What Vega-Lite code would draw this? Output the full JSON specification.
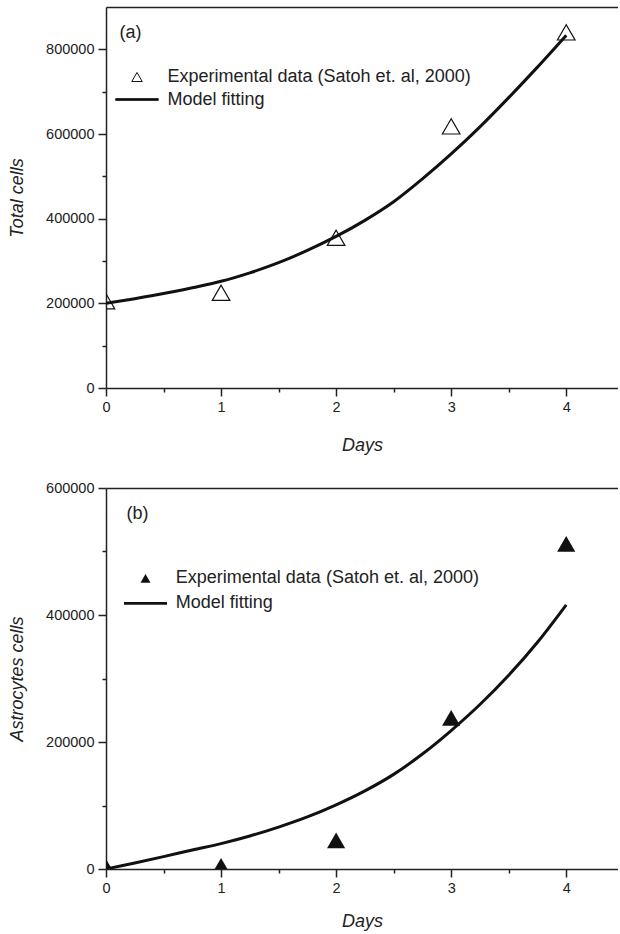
{
  "$schema": "https://vega.github.io/schema/vega-lite/v6.json",
  "padding": {"left": 8, "top": 7, "right": 0, "bottom": 0},
  "spacing": 25,
  "config": {
    "font": "Liberation Sans",
    "view": {"stroke": null},
    "axis": {
      "domainColor": "#222", "domainWidth": 1.5,
      "tickColor": "#222", "tickWidth": 1.5,
      "labelColor": "#222", "labelFont": "Liberation Sans", "labelFontSize": 14.5,
      "titleFont": "Liberation Sans", "titleFontSize": 18, "titleFontStyle": "italic",
      "titleFontWeight": "normal", "titleColor": "#222",
      "grid": false, "labelPadding": 4, "labelFlush": false
    },
    "legend": {"padding": 0, "titleFontSize": 0}
  },
  "datasets": {
    "total_exp": [
      {"day": 0, "cells": 205000, "series": "Experimental data (Satoh et. al, 2000)"},
      {"day": 1, "cells": 225000, "series": "Experimental data (Satoh et. al, 2000)"},
      {"day": 2, "cells": 355000, "series": "Experimental data (Satoh et. al, 2000)"},
      {"day": 3, "cells": 618000, "series": "Experimental data (Satoh et. al, 2000)"},
      {"day": 4, "cells": 840000, "series": "Experimental data (Satoh et. al, 2000)"}
    ],
    "total_model": [
      {"day": 0, "cells": 200000}, {"day": 0.25, "cells": 211000}, {"day": 0.5, "cells": 223000},
      {"day": 0.75, "cells": 237000}, {"day": 1, "cells": 252000}, {"day": 1.25, "cells": 272000},
      {"day": 1.5, "cells": 296000}, {"day": 1.75, "cells": 325000}, {"day": 2, "cells": 358000},
      {"day": 2.25, "cells": 396000}, {"day": 2.5, "cells": 440000}, {"day": 2.75, "cells": 494000},
      {"day": 3, "cells": 553000}, {"day": 3.25, "cells": 617000}, {"day": 3.5, "cells": 686000},
      {"day": 3.75, "cells": 758000}, {"day": 4, "cells": 833000}
    ],
    "astro_exp": [
      {"day": 0, "cells": 3500, "series": "Experimental data (Satoh et. al, 2000)"},
      {"day": 1, "cells": 5000, "series": "Experimental data (Satoh et. al, 2000)"},
      {"day": 2, "cells": 45000, "series": "Experimental data (Satoh et. al, 2000)"},
      {"day": 3, "cells": 238000, "series": "Experimental data (Satoh et. al, 2000)"},
      {"day": 4, "cells": 512000, "series": "Experimental data (Satoh et. al, 2000)"}
    ],
    "astro_model": [
      {"day": 0, "cells": 0}, {"day": 0.25, "cells": 9500}, {"day": 0.5, "cells": 19500},
      {"day": 0.75, "cells": 30000}, {"day": 1, "cells": 40000}, {"day": 1.25, "cells": 52000},
      {"day": 1.5, "cells": 66000}, {"day": 1.75, "cells": 82000}, {"day": 2, "cells": 101000},
      {"day": 2.25, "cells": 123000}, {"day": 2.5, "cells": 149000}, {"day": 2.75, "cells": 181000},
      {"day": 3, "cells": 218000}, {"day": 3.25, "cells": 259000}, {"day": 3.5, "cells": 305000},
      {"day": 3.75, "cells": 357000}, {"day": 4, "cells": 416000}
    ]
  },
  "resolve": {"scale": {"shape": "independent"}, "legend": {"shape": "independent"}},
  "vconcat": [
    {
      "width": 512,
      "height": 381,
      "title": {"text": "(a)", "anchor": "start", "frame": "group", "orient": "top", "offset": 0, "dx": 13.5, "dy": 49, "baseline": "alphabetic", "fontSize": 18, "fontWeight": "normal", "font": "Liberation Sans", "color": "#222"},
      "resolve": {"axis": {"x": "independent"}},
      "layer": [
        {
          "data": {"name": "total_model"},
          "mark": {"type": "line", "color": "#111", "strokeWidth": 3, "interpolate": "monotone", "clip": true},
          "encoding": {
            "x": {"field": "day", "type": "quantitative", "scale": {"domain": [0, 4.45], "nice": false},
              "axis": {"orient": "bottom", "values": [0, 0.5, 1, 1.5, 2, 2.5, 3, 3.5, 4], "labelExpr": "datum.value % 1 === 0 ? format(datum.value, 'd') : ''",
                "tickSize": {"condition": {"test": "datum.value % 1 === 0", "value": 8}, "value": 4},
                "title": "Days", "titlePadding": 23}},
            "y": {"field": "cells", "type": "quantitative", "scale": {"domain": [0, 900000], "nice": false},
              "axis": {"values": [0, 100000, 200000, 300000, 400000, 500000, 600000, 700000, 800000], "format": "d",
                "labelExpr": "datum.value % 200000 === 0 ? datum.label : ''",
                "tickSize": {"condition": {"test": "datum.value % 200000 === 0", "value": 8}, "value": 4},
                "title": "Total cells", "titlePadding": 19}}
          }
        },
        {
          "data": {"name": "total_exp"},
          "mark": {"type": "point", "filled": false, "color": "#111", "size": 310, "strokeWidth": 1.2, "opacity": 1, "clip": true},
          "encoding": {
            "x": {"field": "day", "type": "quantitative",
              "axis": {"orient": "top", "ticks": false, "labels": false, "title": null, "domain": true}},
            "y": {"field": "cells", "type": "quantitative"},
            "shape": {"field": "series", "type": "nominal",
              "scale": {"domain": ["Experimental data (Satoh et. al, 2000)", "Model fitting"], "range": ["triangle-up", "M-4.1,-0.15L4.1,-0.15M-4.1,-0.075L4.1,-0.075M-4.1,0L4.1,0M-4.1,0.075L4.1,0.075M-4.1,0.15L4.1,0.15"]},
              "legend": {"orient": "none", "legendX": 22, "legendY": 61, "title": null,
                "labelFontSize": 18, "labelFont": "Liberation Sans", "labelColor": "#222", "labelLimit": 500,
                "symbolSize": 110, "labelOffset": 21.5, "rowPadding": 4.5,
                "symbolStrokeColor": "#111", "symbolStrokeWidth": 1}}
          }
        }
      ]
    },
    {
      "width": 512,
      "height": 381,
      "title": {"text": "(b)", "anchor": "start", "frame": "group", "orient": "top", "offset": 0, "dx": 20.5, "dy": 57, "baseline": "alphabetic", "fontSize": 18, "fontWeight": "normal", "font": "Liberation Sans", "color": "#222"},
      "resolve": {"axis": {"x": "independent"}},
      "layer": [
        {
          "data": {"name": "astro_model"},
          "mark": {"type": "line", "color": "#111", "strokeWidth": 3, "interpolate": "monotone", "clip": true},
          "encoding": {
            "x": {"field": "day", "type": "quantitative", "scale": {"domain": [0, 4.45], "nice": false},
              "axis": {"orient": "bottom", "values": [0, 0.5, 1, 1.5, 2, 2.5, 3, 3.5, 4], "labelExpr": "datum.value % 1 === 0 ? format(datum.value, 'd') : ''",
                "tickSize": {"condition": {"test": "datum.value % 1 === 0", "value": 8}, "value": 4},
                "title": "Days", "titlePadding": 18}},
            "y": {"field": "cells", "type": "quantitative", "scale": {"domain": [0, 600000], "nice": false},
              "axis": {"values": [0, 100000, 200000, 300000, 400000, 500000, 600000], "format": "d",
                "labelExpr": "datum.value % 200000 === 0 ? datum.label : ''",
                "tickSize": {"condition": {"test": "datum.value % 200000 === 0", "value": 8}, "value": 4},
                "title": "Astrocytes cells", "titlePadding": 19}}
          }
        },
        {
          "data": {"name": "astro_exp"},
          "mark": {"type": "point", "filled": true, "color": "#111", "size": 330, "opacity": 1, "clip": true},
          "encoding": {
            "x": {"field": "day", "type": "quantitative",
              "axis": {"orient": "top", "ticks": false, "labels": false, "title": null, "domain": true}},
            "y": {"field": "cells", "type": "quantitative"},
            "shape": {"field": "series", "type": "nominal",
              "scale": {"domain": ["Experimental data (Satoh et. al, 2000)", "Model fitting"], "range": ["triangle-up", "M-4.3,-0.28L4.3,-0.28L4.3,0.28L-4.3,0.28Z"]},
              "legend": {"orient": "none", "legendX": 30.5, "legendY": 81.3, "title": null,
                "labelFontSize": 18, "labelFont": "Liberation Sans", "labelColor": "#222", "labelLimit": 500,
                "symbolSize": 100, "labelOffset": 21.3, "rowPadding": 7,
                "symbolFillColor": "#111"}}
          }
        }
      ]
    }
  ]
}
